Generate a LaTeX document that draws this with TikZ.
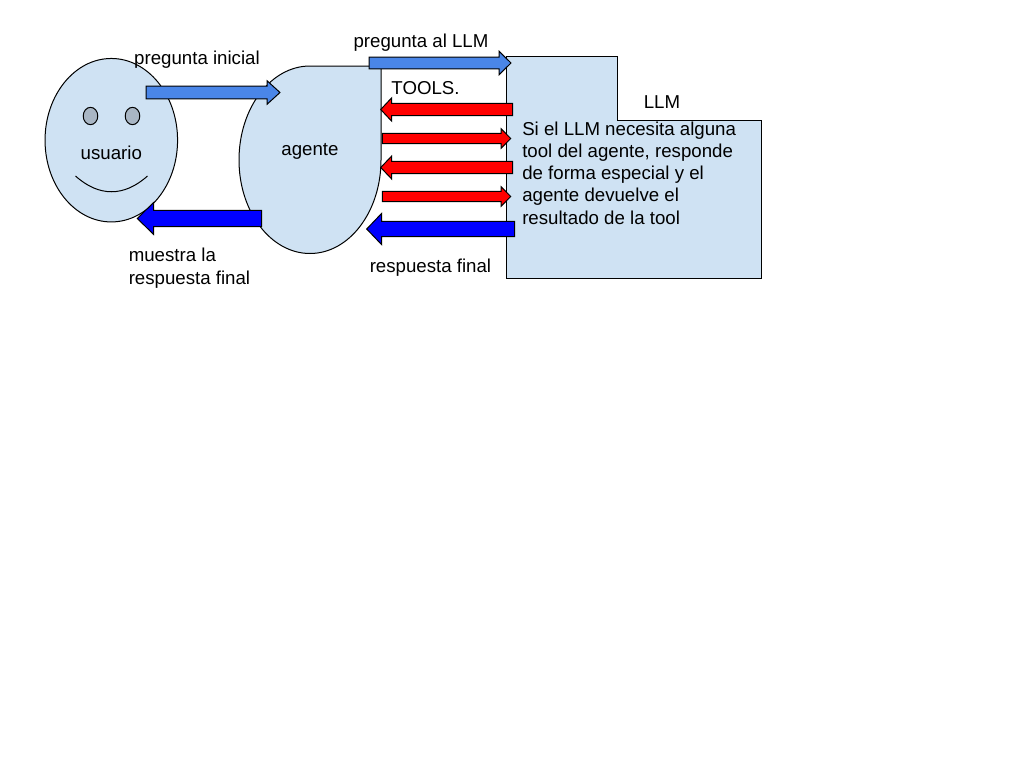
\documentclass[tikz,border=0pt]{standalone}
\usepackage{fontspec}
\setmainfont{Liberation Sans}
\usetikzlibrary{calc, shapes.geometric}
\definecolor{lightblue}{HTML}{CFE2F3}
\definecolor{eyegray}{HTML}{A9B6C4}
\definecolor{midblue}{HTML}{4A86E8}
\definecolor{fullblue}{HTML}{0000FF}
\definecolor{fullred}{HTML}{FF0000}
\tikzset{
	shapeline/.style={draw=black, line width=0.75pt, fill=lightblue},
	flecha/.style={draw=black, line width=0.75pt, line join=miter},
	label/.style={font=\fontsize{14pt}{16.8pt}\selectfont, anchor=base, inner sep=0pt}
}

\begin{document}
\begin{tikzpicture}[x=0.75pt, y=-0.75pt]
	\useasboundingbox (0,0) rectangle (1024,768);
	% usuario
	\node [shapeline, ellipse, inner sep=0pt, minimum width=99.4pt, minimum height=122.6pt] (usuario) at (111.3,140.2) {};
	\node [shapeline, fill=eyegray, ellipse, inner sep=0pt, minimum width=10.9pt, minimum height=13pt] (ojoa) at (90.5,116) {};
	\node [shapeline, fill=eyegray, ellipse, inner sep=0pt, minimum width=10.9pt, minimum height=13pt] (ojob) at (132.5,116) {};
	\coordinate (bocaa) at (75.5,176);
	\coordinate (bocab) at (147.5,176);
	\draw [line width=0.75pt] (bocaa) .. controls (99,197) and (124,197) .. (bocab);
	\node [label] (usuariotxt) at (111.3,159.2) {usuario};
	% agente
	\coordinate (agentetop) at (310,66);
	\draw [shapeline] (agentetop) -- (381,66) -- (381,160)
		arc [start angle=0, end angle=90, x radius=71, y radius=93.5]
		arc [start angle=90, end angle=180, x radius=71, y radius=93.5]
		arc [start angle=180, end angle=270, x radius=71, y radius=94] -- cycle;
	\node [label] (agentetxt) at (310,155.8) {agente};
	% LLM
	\coordinate (llmtop) at (506.3,56.3);
	\draw [shapeline] (llmtop) -- (617.3,56.3) -- (617.3,120) -- (761.3,120) -- (761.3,278.3) -- (506.3,278.3) -- cycle;
	\node [label] (llmtxt) at (662,108.3) {LLM};
	% flechas: nombre/cola/punta/altura/cuerpo/cabeza/largo/color
	\foreach \n/\c/\p/\y/\s/\h/\l/\col in {
		inicial/146/280/92.5/6.3/11.8/-13/midblue,
		allm/369/511/63/5.9/11.8/-12/midblue,
		toola/512.7/380.7/109.5/6.2/11.7/11/fullred,
		toolb/382.3/510.7/138.5/5.2/9.7/-9.5/fullred,
		toolc/512.7/380.7/167.5/6.2/11.5/11/fullred,
		toold/382.3/510.7/196.5/5.2/9.7/-9.5/fullred,
		final/514.7/366.7/229/7.7/15.7/15/fullblue,
		muestra/261.7/137.3/218.5/8.2/16/16.4/fullblue} {
		\coordinate (\n cola) at (\c,\y);
		\coordinate (\n punta) at (\p,\y);
		\draw [flecha, fill=\col] ($(\n cola)+(0,-\s)$) -- ($(\n punta)+(\l,-\s)$) -- ($(\n punta)+(\l,-\h)$)
			-- (\n punta) -- ($(\n punta)+(\l,\h)$) -- ($(\n punta)+(\l,\s)$) -- ($(\n cola)+(0,\s)$) -- cycle;
	}
	% textos
	\node [label] (iniciallbl) at (197,64) {pregunta inicial};
	\node [label] (allmlbl) at (421,47.4) {pregunta al LLM};
	\node [label] (toolslbl) at (425.5,94) {TOOLS.};
	\node [label, anchor=base west] (finallbl) at (369.5,272.7) {respuesta final};
	\node [label, anchor=base west] (muestralbl) at (128.5,261.7) {muestra la};
	\node [label, anchor=base west] (muestralblb) at (128.5,284.7) {respuesta final};
	\node [label, anchor=base west] (notaa) at (522,135) {Si el LLM necesita alguna};
	\node [label, anchor=base west] (notab) at (522,157.3) {tool del agente, responde};
	\node [label, anchor=base west] (notac) at (522,179.6) {de forma especial y el};
	\node [label, anchor=base west] (notad) at (522,201.7) {agente devuelve el};
	\node [label, anchor=base west] (notae) at (522,224) {resultado de la tool};
\end{tikzpicture}
\end{document}
